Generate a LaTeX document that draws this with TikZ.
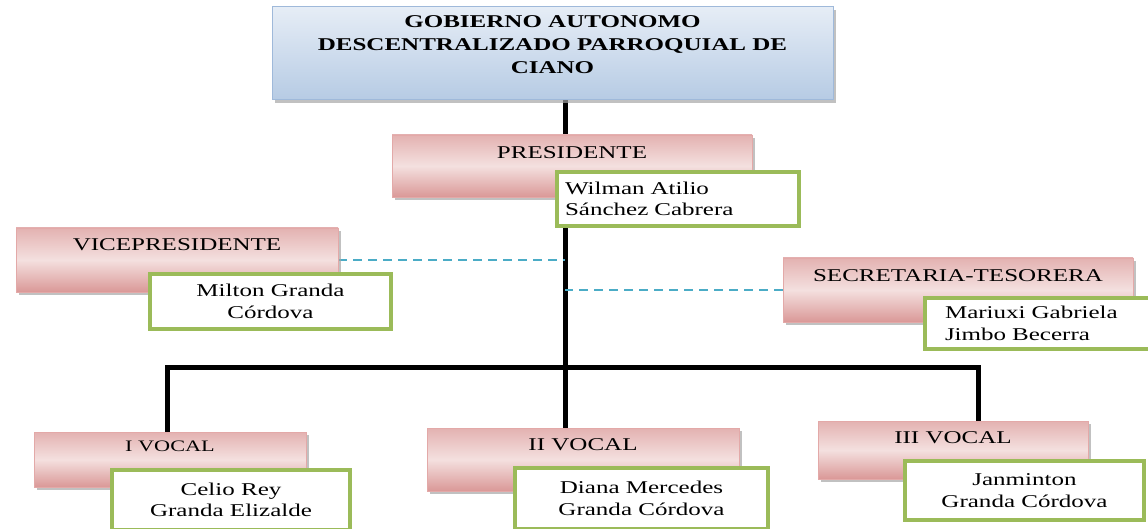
\documentclass[tikz,border=0pt]{standalone}
\usepackage{fontspec}
\setmainfont{Liberation Serif}[FakeStretch=1.39]
\usepackage{xcolor}
\usepackage{tikz}
\usetikzlibrary{shadows,backgrounds}

\definecolor{rosaclaro}{HTML}{F4E0DF}
\definecolor{rosaosc}{HTML}{DA9897}
\definecolor{rosaborde}{HTML}{E3A9A8}
\definecolor{azulclaro}{HTML}{E6EDF6}
\definecolor{azulosc}{HTML}{B6CBE4}
\definecolor{azulborde}{HTML}{9FB9DA}
\definecolor{verde}{HTML}{9BBB59}
\definecolor{celeste}{HTML}{4BACC6}

\tikzset{
	sombra/.style={drop shadow={shadow xshift=3pt, shadow yshift=-3pt, fill=gray!70, opacity=.7}},
	cargo/.style={draw=rosaborde, line width=0.8pt, sombra,
		top color=rosaosc!75, bottom color=rosaosc, middle color=rosaclaro},
	nombre/.style={draw=verde, line width=4pt, fill=white, align=center,
		font=\fontsize{18}{21.5}\selectfont},
	orgline/.style={line width=5pt, black},
	dashline/.style={celeste, line width=1.3pt, dash pattern=on 9pt off 6pt},
	rotulo/.style={font=\fontsize{18}{22}\selectfont}
}

\begin{document}
\begin{tikzpicture}[x=1pt, y=-1pt]
	\useasboundingbox (0,0) rectangle (1148,529);
	% encabezado
	\node[draw=azulborde, line width=1pt, sombra, top color=azulclaro, bottom color=azulosc,
		minimum width=561, minimum height=93] (gad) at (552.5,53.5) {};
	\node[rotulo, font=\fontsize{18}{23}\selectfont\bfseries, align=center] (gad-t) at (552.5,45)
		{GOBIERNO AUTONOMO\\DESCENTRALIZADO PARROQUIAL DE\\CIANO};
	% cargos
	\node[cargo, minimum width=360, minimum height=62] (pres) at (572,166) {};
	\node[cargo, minimum width=322, minimum height=64] (vice) at (177,260) {};
	\node[cargo, minimum width=350, minimum height=64] (secr) at (958,290) {};
	\node[cargo, minimum width=272, minimum height=55] (voc1) at (170,459.5) {};
	\node[cargo, minimum width=312, minimum height=63] (voc2) at (583,459.5) {};
	\node[cargo, minimum width=270, minimum height=58] (voc3) at (953,450) {};
	\node[rotulo] (pres-t) at ([yshift=-18pt]pres.north) {PRESIDENTE};
	\node[rotulo] (vice-t) at ([yshift=-17pt]vice.north) {VICEPRESIDENTE};
	\node[rotulo] (secr-t) at ([yshift=-18pt]secr.north) {SECRETARIA-TESORERA};
	\node[rotulo, font=\fontsize{16}{20}\selectfont] (voc1-t) at ([yshift=-15pt]voc1.north) {I VOCAL};
	\node[rotulo] (voc2-t) at ([yshift=-17pt]voc2.north) {II VOCAL};
	\node[rotulo] (voc3-t) at ([yshift=-17pt]voc3.north) {III VOCAL};
	% nombres
	\node[nombre, align=left, inner xsep=8pt, text width=226pt, minimum height=54] (wil) at (678,199)
		{Wilman Atilio\\S\'anchez Cabrera};
	\node[nombre, minimum width=241, minimum height=55] (mil) at (270.5,301.5)
		{Milton Granda\\C\'ordova};
	\node[nombre, align=left, inner xsep=20pt, text width=185pt, minimum height=51] (mar) at (1037.5,323.5)
		{Mariuxi Gabriela\\Jimbo Becerra};
	\node[nombre, minimum width=238, minimum height=60] (cel) at (231,500)
		{Celio Rey\\Granda Elizalde};
	\node[nombre, minimum width=253, minimum height=61] (dia) at (641.5,498.5)
		{Diana Mercedes\\Granda C\'ordova};
	\node[nombre, minimum width=239, minimum height=59] (jan) at (1024.5,490.5)
		{Janminton\\Granda C\'ordova};
	% conectores
	\coordinate (eje) at (565,367);
	\coordinate (barI) at (167,367);
	\coordinate (barD) at (978,367);
	\begin{scope}[on background layer]
		\draw[orgline] (gad.south -| eje) -- (eje |- voc2.north);
		\draw[orgline] (barI |- voc1.north) -- (barI) -- (barD) -- (barD |- voc3.north);
		\draw[dashline] (vice.east) -- (vice.east -| eje);
		\draw[dashline] (secr.west) -- (secr.west -| eje);
	\end{scope}
\end{tikzpicture}
\end{document}
